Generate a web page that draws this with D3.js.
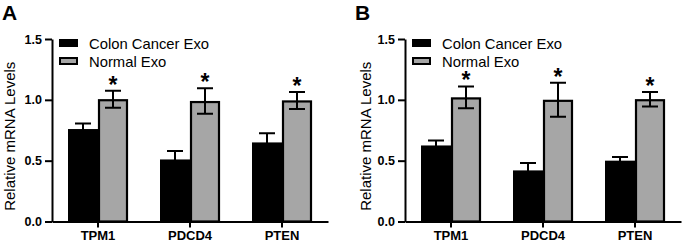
<!DOCTYPE html>
<html>
<head>
<meta charset="utf-8">
<script src="https://cdn.jsdelivr.net/npm/d3@7"></script>
<style>
  body { margin: 0; background: #fff; }
  svg { font-family: "Liberation Sans", Arial, sans-serif; }
</style>
</head>
<body>
<div id="chart"></div>
<script>
// data
const genes = ["TPM1", "PDCD4", "PTEN"];
const groups = ["Colon Cancer Exo", "Normal Exo"];
const yTicks = [0, 0.5, 1.0, 1.5];

const cancerA = [0.76, 0.51, 0.65];
const cancerErrA = [0.045, 0.07, 0.075];
const normalA = [1.005, 0.99, 0.995];
const normalErrA = [0.07, 0.105, 0.07];

const cancerB = [0.625, 0.42, 0.50];
const cancerErrB = [0.04, 0.06, 0.03];
const normalB = [1.02, 1.0, 1.005];
const normalErrB = [0.09, 0.14, 0.06];

const colors = ["#000000", "#a6a6a6"];

const W = 685, H = 243;
const svg = d3.select("#chart").append("svg")
    .attr("width", W)
    .attr("height", H);

const y = d3.scaleLinear().domain([0, 1.5]).range([221.5, 39]);

function panel(letter, x0, titleX, cancer, cancerErr, normal, normalErr) {
    const g = svg.append("g");

    // panel letter
    g.append("text")
        .attr("x", x0 - 50)
        .attr("y", 20)
        .style("font-size", "21px")
        .style("font-weight", "bold")
        .text(letter);

    const x = d3.scaleBand()
        .domain(genes)
        .range([x0, x0 + 276])
        .padding(0);

    const sub = d3.scaleBand()
        .domain(groups)
        .range([x.bandwidth() / 2 - 30, x.bandwidth() / 2 + 30]);

    // bars
    const data = genes.map((gene, i) => ({
        gene: gene,
        vals: [
            {key: groups[0], v: cancer[i], e: cancerErr[i]},
            {key: groups[1], v: normal[i], e: normalErr[i]}
        ]
    }));

    const gg = g.selectAll(".gene")
        .data(data)
        .join("g")
            .attr("transform", d => `translate(${x(d.gene)},0)`);

    gg.selectAll("rect")
        .data(d => d.vals)
        .join("rect")
            .attr("x", (d, i) => sub(d.key) + (i === 1 ? 1 : 0))
            .attr("y", d => y(d.v) + (d.key === groups[1] ? 1 : 0))
            .attr("width", (d, i) => sub.bandwidth() - (i === 1 ? 2 : 0))
            .attr("height", d => y(0) - y(d.v) - (d.key === groups[1] ? 1 : 0))
            .attr("fill", (d, i) => colors[i])
            .attr("stroke", "#000")
            .attr("stroke-width", (d, i) => i === 1 ? 2.2 : 0);

    // error bars
    const capW = 16;
    gg.selectAll(".err")
        .data(d => d.vals)
        .join("path")
            .attr("class", "err")
            .attr("fill", "none")
            .attr("stroke", "#000")
            .attr("stroke-width", 2)
            .attr("d", d => {
                const cx = sub(d.key) + sub.bandwidth() / 2;
                const t = y(d.v + d.e), b = y(d.v - d.e);
                return `M${cx - capW / 2},${t}H${cx + capW / 2}M${cx},${t}V${b}M${cx - capW / 2},${b}H${cx + capW / 2}`;
            });

    // significance stars
    gg.append("text")
        .attr("x", d => sub(groups[1]) + sub.bandwidth() / 2)
        .attr("y", d => y(d.vals[1].v + d.vals[1].e) + 2)
        .attr("text-anchor", "middle")
        .style("font-size", "23px")
        .style("font-weight", "bold")
        .text("*");

    // axes
    const yAxis = g.append("g")
        .attr("transform", `translate(${x0},0)`)
        .call(d3.axisLeft(y).tickValues(yTicks).tickFormat(d3.format(".1f")).tickSize(7).tickPadding(3).tickSizeOuter(0));
    yAxis.select(".domain").attr("stroke-width", 2);
    yAxis.selectAll(".tick line").attr("stroke-width", 2);
    yAxis.selectAll("text")
        .style("font-size", "12.5px")
        .style("font-weight", "bold")
        .attr("fill", "#000");

    const xAxis = g.append("g")
        .attr("transform", `translate(0,${y(0)})`)
        .call(d3.axisBottom(x).tickSize(6).tickPadding(3).tickSizeOuter(0));
    xAxis.select(".domain").attr("stroke-width", 2);
    xAxis.selectAll(".tick line").attr("stroke-width", 2);
    xAxis.selectAll("text")
        .style("font-size", "13px")
        .style("font-weight", "bold")
        .attr("fill", "#000");

    // y title
    g.append("text")
        .attr("transform", `translate(${titleX},${(y(0) + y(1.5)) / 2 + 6}) rotate(-90)`)
        .attr("text-anchor", "middle")
        .style("font-size", "15px")
        .text("Relative mRNA Levels");

    // legend
    const legend = g.selectAll(".legend")
        .data(groups)
        .join("g")
            .attr("transform", (d, i) => `translate(${x0 + 7},${39 + i * 18})`);

    legend.append("rect")
        .attr("x", (d, i) => i === 1 ? 1 : 0)
        .attr("y", (d, i) => i === 1 ? 1 : 0)
        .attr("width", (d, i) => i === 1 ? 17 : 19)
        .attr("height", (d, i) => i === 1 ? 6 : 8)
        .attr("fill", (d, i) => colors[i])
        .attr("stroke", "#000")
        .attr("stroke-width", (d, i) => i === 1 ? 2 : 0);

    legend.append("text")
        .attr("x", 30)
        .attr("y", 9.5)
        .style("font-size", "14.8px")
        .text(d => d);
}

panel("A", 52, 15, cancerA, cancerErrA, normalA, normalErrA);
panel("B", 405, 371, cancerB, cancerErrB, normalB, normalErrB);
</script>
</body>
</html>
